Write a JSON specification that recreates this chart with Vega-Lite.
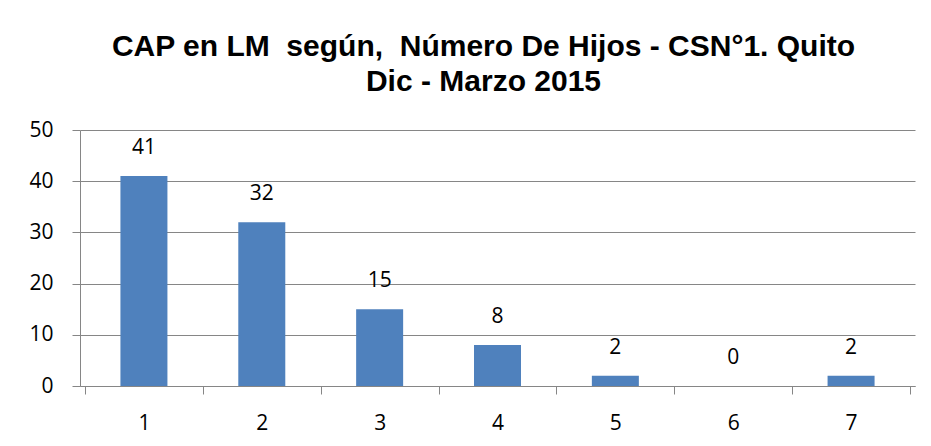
{
  "$schema": "https://vega.github.io/schema/vega-lite/v6.json",
  "autosize": {"type": "none"},
  "width": 835,
  "height": 256,
  "padding": {"left": 80, "top": 130, "right": 16, "bottom": 60},
  "background": "white",
  "title": {
    "text": ["CAP en LM\u00a0 según,\u00a0 Número De Hijos - CSN°1. Quito", "Dic - Marzo 2015"],
    "font": "Liberation Sans",
    "fontSize": 30,
    "fontWeight": "bold",
    "color": "#000000",
    "anchor": "middle",
    "dx": -14,
    "offset": 22,
    "lineHeight": 35
  },
  "data": {
    "values": [
      {"hijos": 1, "n": 41},
      {"hijos": 2, "n": 32},
      {"hijos": 3, "n": 15},
      {"hijos": 4, "n": 8},
      {"hijos": 5, "n": 2},
      {"hijos": 6, "n": 0},
      {"hijos": 7, "n": 2}
    ]
  },
  "config": {
    "view": {"stroke": null},
    "axis": {"labelFont": "Open Sans", "labelFontSize": 21, "labelColor": "#000000", "domainColor": "#868686", "tickColor": "#868686", "gridColor": "#868686", "domainWidth": 1, "tickWidth": 1, "gridWidth": 1}
  },
  "resolve": {"axis": {"x": "independent"}},
  "layer": [
    {
      "mark": {"type": "bar", "color": "#4F81BD", "width": 47},
      "encoding": {
        "x": {
          "field": "hijos", "type": "quantitative",
          "scale": {"domain": [0.5, 7.5], "nice": false, "zero": false},
          "axis": {"orient": "bottom", "values": [0.5, 1.5, 2.5, 3.5, 4.5, 5.5, 6.5, 7.5], "labels": false, "tickSize": 8, "grid": false, "title": null}
        },
        "y": {
          "field": "n", "type": "quantitative",
          "scale": {"domain": [0, 50], "nice": false},
          "axis": {"values": [0, 10, 20, 30, 40, 50], "tickSize": 8, "labelPadding": 19, "grid": true, "domain": true, "title": null}
        }
      }
    },
    {
      "mark": {"type": "text", "font": "Open Sans", "fontSize": 21, "color": "#000000", "baseline": "middle", "dy": -28},
      "encoding": {
        "x": {
          "field": "hijos", "type": "quantitative",
          "axis": {"orient": "bottom", "values": [1, 2, 3, 4, 5, 6, 7], "ticks": false, "domain": false, "grid": false, "labelPadding": 26, "title": null}
        },
        "y": {"field": "n", "type": "quantitative"},
        "text": {"field": "n", "type": "quantitative"}
      }
    }
  ]
}
